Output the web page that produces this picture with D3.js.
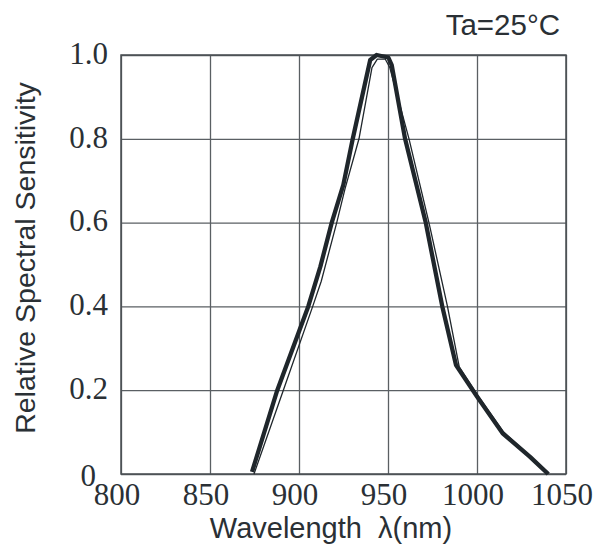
<!DOCTYPE html>
<html lang="en">
<head>
<meta charset="UTF-8">
<title>Relative Spectral Sensitivity</title>
<script src="https://d3js.org/d3.v7.min.js"></script>
<style>
    body { margin: 0; background: #fff; }
    svg { display: block; }
</style>
</head>
<body>
<script>
    // data
    const xTicks = [800, 850, 900, 950, 1000, 1050];
    const yTicks = [0, 0.2, 0.4, 0.6, 0.8, 1.0];
    const yTickLabels = ["0", "0.2", "0.4", "0.6", "0.8", "1.0"];

    // thick curve
    const thickX = [873.6, 887.8, 900, 905.2, 912, 918.4, 924.9, 930.2, 940, 943.6, 950.2, 952.1, 959.6, 971.2, 980.5, 988.2, 1000, 1014.4, 1029.8, 1040];
    const thickY = [0.005, 0.2, 0.34, 0.4, 0.495, 0.6, 0.69, 0.8, 0.988, 1.0, 0.994, 0.976, 0.8, 0.6, 0.4, 0.26, 0.185, 0.097, 0.041, 0.0];
    // thin curve
    const thinX = [874.7, 891.2, 907.7, 912.5, 921.2, 925.8, 933.7, 941, 944, 948.5, 951, 961.8, 973, 983.4, 990, 1000, 1015, 1030, 1040.5];
    const thinY = [0.0, 0.2, 0.4, 0.46, 0.6, 0.68, 0.8, 0.97, 0.99, 0.99, 0.97, 0.8, 0.6, 0.4, 0.256, 0.19, 0.1, 0.042, 0.002];

    const width = 613, height = 550;
    const plotL = 121, plotR = 566, plotT = 55, plotB = 474;
    const ink = "#2a3035";

    const svg = d3.select("body").append("svg").attr("width", width).attr("height", height);

    const x = d3.scaleLinear().domain([800, 1050]).range([plotL, plotR]);
    const y = d3.scaleLinear().domain([0, 1]).range([plotB, plotT]);

    // grid
    svg.append("g")
        .attr("transform", `translate(0,${plotB})`)
        .call(d3.axisBottom(x).tickValues(xTicks).tickSize(-(plotB - plotT)).tickFormat(""))
        .call(g => g.select(".domain").remove())
        .call(g => g.selectAll("line").attr("stroke", "#5a5f63").attr("stroke-width", 1.3));

    svg.append("g")
        .attr("transform", `translate(${plotL},0)`)
        .call(d3.axisLeft(y).tickValues(yTicks).tickSize(-(plotR - plotL)).tickFormat(""))
        .call(g => g.select(".domain").remove())
        .call(g => g.selectAll("line").attr("stroke", "#5a5f63").attr("stroke-width", 1.3));

    svg.append("rect")
        .attr("x", plotL).attr("y", plotT)
        .attr("width", plotR - plotL).attr("height", plotB - plotT)
        .attr("fill", "none").attr("stroke", "#4a4f53").attr("stroke-width", 1.5);

    // tick labels
    svg.selectAll(".xl").data(xTicks).enter().append("text")
        .attr("x", d => x(d) - 4)
        .attr("y", 505)
        .attr("text-anchor", "middle")
        .attr("font-family", "Liberation Serif, Times New Roman, serif")
        .attr("font-size", 31)
        .attr("fill", ink)
        .text(d => d);

    svg.selectAll(".yl").data(yTicks).enter().append("text")
        .attr("x", d => d === 0 ? 96 : 108)
        .attr("y", d => y(d) - 2)
        .attr("dy", d => d === 0 ? "0.45em" : "0.35em")
        .attr("text-anchor", "end")
        .attr("font-family", "Liberation Serif, Times New Roman, serif")
        .attr("font-size", 31)
        .attr("fill", ink)
        .text((d, i) => yTickLabels[i]);

    // titles
    svg.append("text")
        .attr("x", 331).attr("y", 538)
        .attr("text-anchor", "middle")
        .attr("font-family", "Liberation Sans, Arial, sans-serif")
        .attr("font-size", 29)
        .attr("fill", ink)
        .text("Wavelength\u00a0\u00a0λ(nm)");

    svg.append("text")
        .attr("transform", "translate(35,258) rotate(-90)")
        .attr("text-anchor", "middle")
        .attr("font-family", "Liberation Sans, Arial, sans-serif")
        .attr("font-size", 28.5)
        .attr("fill", ink)
        .text("Relative Spectral Sensitivity");

    svg.append("text")
        .attr("x", 560).attr("y", 35)
        .attr("text-anchor", "end")
        .attr("font-family", "Liberation Sans, Arial, sans-serif")
        .attr("font-size", 29.5)
        .attr("fill", ink)
        .text("Ta=25°C");

    // curves
    const line = d3.line().x(d => x(d[0])).y(d => y(d[1]));

    svg.append("path")
        .datum(thinX.map((v, i) => [v, thinY[i]]))
        .attr("d", line)
        .attr("fill", "none")
        .attr("stroke", "#1f262b")
        .attr("stroke-width", 1.3)
        .attr("stroke-linejoin", "round");

    svg.append("path")
        .datum(thickX.map((v, i) => [v, thickY[i]]))
        .attr("d", line)
        .attr("fill", "none")
        .attr("stroke", "#1f262b")
        .attr("stroke-width", 4.3)
        .attr("stroke-linejoin", "round");
</script>
</body>
</html>
